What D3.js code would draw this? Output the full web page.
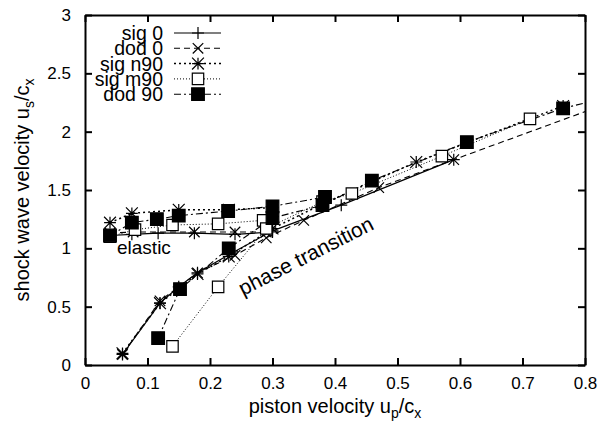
<!DOCTYPE html>
<html lang="en">
<head>
<meta charset="utf-8">
<title>Shock wave velocity</title>
<script src="https://d3js.org/d3.v7.min.js"></script>
<style>
  body { margin: 0; background: #fff; }
  text { font-family: "Liberation Sans", Arial, sans-serif; fill: #000; }
</style>
</head>
<body>
<div id="chart"></div>
<script>
// Data: [piston velocity up/cx, shock velocity us/cx]
const seriesNames = ["sig 0", "dod 0", "sig n90", "sig m90", "dod 90"];

// elastic branch (upper, nearly flat)
const sig0Elastic = [[0.04, 1.11], [0.075, 1.12], [0.117, 1.13], [0.175, 1.13], [0.24, 1.12], [0.30, 1.14]];
const dod0Elastic = [[0.04, 1.13], [0.077, 1.14], [0.175, 1.14], [0.24, 1.14], [0.29, 1.14]];
const sign90Elastic = [[0.04, 1.22], [0.075, 1.30], [0.15, 1.33], [0.23, 1.33], [0.30, 1.35]];
const sigm90Elastic = [[0.04, 1.10], [0.08, 1.16], [0.14, 1.20], [0.213, 1.21], [0.285, 1.24]];
const dod90Elastic = [[0.04, 1.11], [0.075, 1.22], [0.115, 1.25], [0.15, 1.28], [0.229, 1.32], [0.30, 1.36], [0.384, 1.44]];

// plastic / phase transition branch
const sig0Plastic = [[0.06, 0.09], [0.12, 0.53], [0.15, 0.67], [0.18, 0.79], [0.235, 0.96], [0.30, 1.15], [0.41, 1.37], [0.59, 1.76]];
const dod0Plastic = [[0.06, 0.09], [0.12, 0.55], [0.18, 0.79], [0.24, 0.94], [0.29, 1.09], [0.35, 1.24], [0.47, 1.52], [0.59, 1.76], [0.84, 2.25]];
const sign90Plastic = [[0.06, 0.10], [0.12, 0.53], [0.18, 0.78], [0.23, 0.93], [0.30, 1.17], [0.38, 1.38], [0.53, 1.74], [0.765, 2.22]];
const sigm90Plastic = [[0.14, 0.16], [0.213, 0.67], [0.29, 1.17], [0.38, 1.40], [0.427, 1.47], [0.571, 1.79], [0.712, 2.11]];
const dod90Plastic = [[0.117, 0.23], [0.152, 0.65], [0.23, 1.00], [0.30, 1.26], [0.38, 1.37], [0.459, 1.58], [0.611, 1.91], [0.765, 2.20], [0.84, 2.30]];

const xTicks = [0, 0.1, 0.2, 0.3, 0.4, 0.5, 0.6, 0.7, 0.8];
const yTicks = [0, 0.5, 1, 1.5, 2, 2.5, 3];

const width = 602, height = 421;
const margin = { left: 85, right: 17, top: 15, bottom: 56 };

const svg = d3.select("#chart").append("svg")
    .attr("width", width).attr("height", height);

const x = d3.scaleLinear().domain([0, 0.8]).range([margin.left, width - margin.right]);
const y = d3.scaleLinear().domain([0, 3]).range([height - margin.bottom, margin.top]);

// marker shapes
const plusType = { draw(c, s) { const r = Math.sqrt(s) / 2; c.moveTo(-r, 0); c.lineTo(r, 0); c.moveTo(0, -r); c.lineTo(0, r); } };
const xType = { draw(c, s) { const r = Math.sqrt(s) / 2; c.moveTo(-r, -r); c.lineTo(r, r); c.moveTo(-r, r); c.lineTo(r, -r); } };
const starType = { draw(c, s) { const r = Math.sqrt(s) / 2;
    c.moveTo(-r, 0); c.lineTo(r, 0); c.moveTo(0, -r); c.lineTo(0, r);
    c.moveTo(-r, -r); c.lineTo(r, r); c.moveTo(-r, r); c.lineTo(r, -r); } };
const squareType = { draw(c, s) { const r = Math.sqrt(s) / 2; c.rect(-r, -r, 2 * r, 2 * r); } };

const styles = [
    { dash: null, width: 1.2, sym: plusType, size: 144, fill: "none" },
    { dash: "6,4", width: 1.1, sym: xType, size: 110, fill: "none" },
    { dash: "2,3", width: 1.5, sym: starType, size: 140, fill: "none" },
    { dash: "1,2", width: 1, sym: squareType, size: 130, fill: "#fff" },
    { dash: "7,3,2,3", width: 1.1, sym: squareType, size: 160, fill: "#000" }
];
const branches = [
    [sig0Elastic, sig0Plastic],
    [dod0Elastic, dod0Plastic],
    [sign90Elastic, sign90Plastic],
    [sigm90Elastic, sigm90Plastic],
    [dod90Elastic, dod90Plastic]
];

svg.append("clipPath").attr("id", "clip")
  .append("rect")
    .attr("x", margin.left).attr("y", margin.top)
    .attr("width", width - margin.left - margin.right)
    .attr("height", height - margin.top - margin.bottom);

const line = d3.line().x(d => x(d[0])).y(d => y(d[1]));
const plot = svg.append("g").attr("clip-path", "url(#clip)");

branches.forEach((br, i) => {
    const st = styles[i];
    br.forEach(pts => {
        plot.append("path")
            .attr("d", line(pts))
            .attr("fill", "none")
            .attr("stroke", "#000")
            .attr("stroke-width", st.width)
            .attr("stroke-dasharray", st.dash);
    });
});
branches.forEach((br, i) => {
    const st = styles[i];
    const sym = d3.symbol().type(st.sym).size(st.size);
    plot.selectAll(null)
        .data(br[0].concat(br[1]))
        .enter().append("path")
        .attr("transform", d => `translate(${x(d[0])},${y(d[1])})`)
        .attr("d", sym)
        .attr("fill", st.fill)
        .attr("stroke", "#000")
        .attr("stroke-width", 1.2);
});

// axes with inward ticks on all four sides
const fmt = d => d === 0 ? "0" : String(d);
const tl = 7;
svg.append("g").attr("transform", `translate(0,${y(0)})`)
    .call(d3.axisBottom(x).tickValues(xTicks).tickFormat(fmt).tickSizeInner(-tl).tickSizeOuter(0).tickPadding(12));
svg.append("g").attr("transform", `translate(0,${y(3)})`)
    .call(d3.axisTop(x).tickValues(xTicks).tickFormat("").tickSizeInner(-tl).tickSizeOuter(0));
svg.append("g").attr("transform", `translate(${x(0)},0)`)
    .call(d3.axisLeft(y).tickValues(yTicks).tickFormat(fmt).tickSizeInner(-tl).tickSizeOuter(0).tickPadding(14));
svg.append("g").attr("transform", `translate(${x(0.8)},0)`)
    .call(d3.axisRight(y).tickValues(yTicks).tickFormat("").tickSizeInner(-tl).tickSizeOuter(0));
svg.selectAll(".domain").attr("stroke", "#000").attr("stroke-width", 2);
svg.selectAll(".tick line").attr("stroke", "#000").attr("stroke-width", 2);
svg.selectAll(".tick text").style("font-size", "17px").style("font-family", "'Liberation Sans', Arial, sans-serif");

// axis titles
const xt = svg.append("text")
    .attr("x", (x(0) + x(0.8)) / 2).attr("y", 413)
    .attr("text-anchor", "middle").style("font-size", "20px");
xt.append("tspan").text("piston velocity u");
xt.append("tspan").text("p").attr("dy", 5).style("font-size", "14px");
xt.append("tspan").text("/c").attr("dy", -5);
xt.append("tspan").text("x").attr("dy", 5).style("font-size", "14px");

const yt = svg.append("text")
    .attr("transform", `translate(29,${(y(0) + y(3)) / 2}) rotate(-90)`)
    .attr("text-anchor", "middle").style("font-size", "20px");
yt.append("tspan").text("shock wave velocity u");
yt.append("tspan").text("s").attr("dy", 5).style("font-size", "14px");
yt.append("tspan").text("/c").attr("dy", -5);
yt.append("tspan").text("x").attr("dy", 5).style("font-size", "14px");

// annotations
svg.append("text").attr("x", 117).attr("y", 254).style("font-size", "19px").text("elastic");
svg.append("text")
    .attr("transform", "translate(243,296) rotate(-27)")
    .style("font-size", "21px").text("phase transition");

// legend
const legY0 = 33, legDy = 15.3;
seriesNames.forEach((name, i) => {
    const st = styles[i];
    const gy = legY0 + i * legDy;
    svg.append("text").attr("x", 163).attr("y", gy + 7)
        .attr("text-anchor", "end").style("font-size", "19.5px").text(name);
    svg.append("line")
        .attr("x1", 174).attr("x2", 221).attr("y1", gy).attr("y2", gy)
        .attr("stroke", "#000").attr("stroke-width", st.width)
        .attr("stroke-dasharray", st.dash);
    svg.append("path")
        .attr("transform", `translate(198,${gy})`)
        .attr("d", d3.symbol().type(st.sym).size(st.size)())
        .attr("fill", st.fill).attr("stroke", "#000").attr("stroke-width", 1.2);
});
</script>
</body>
</html>
